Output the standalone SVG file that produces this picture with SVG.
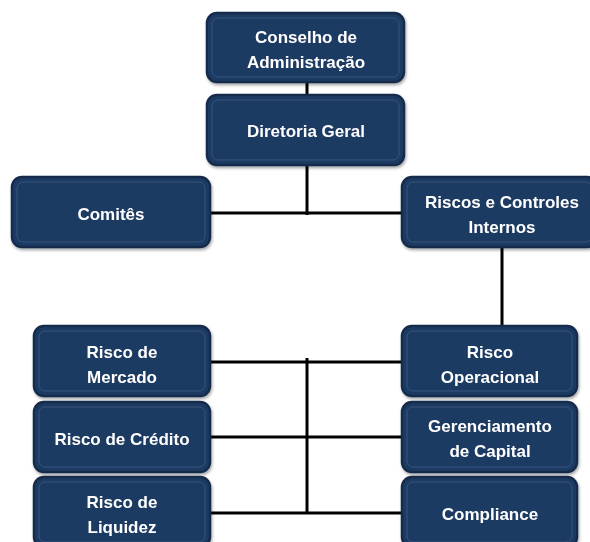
<svg xmlns="http://www.w3.org/2000/svg" width="590" height="542" viewBox="0 0 590 542">
<defs>
<style>
.box{fill:#1f3b63;stroke:#152c4b;stroke-width:2.5}
.bev{fill:none;stroke:#3a5a86;stroke-width:1;opacity:0.8}
.t{font-family:"Liberation Sans",Arial,sans-serif;font-weight:bold;font-size:17px;fill:#ffffff;text-anchor:middle}
.c{stroke:#000;stroke-width:3;fill:none}
</style>
<filter id="sh" x="-10%" y="-10%" width="120%" height="130%">
<feDropShadow dx="1" dy="2" stdDeviation="1.5" flood-color="#000" flood-opacity="0.35"/>
</filter>
</defs>
<rect width="590" height="542" fill="#ffffff"/>
<g id="connectors">
<line class="c" x1="307" y1="82" x2="307" y2="96"/>
<line class="c" x1="307" y1="165" x2="307" y2="215"/>
<line class="c" x1="210" y1="213" x2="402" y2="213"/>
<line class="c" x1="502" y1="247" x2="502" y2="327"/>
<line class="c" x1="307" y1="358" x2="307" y2="514"/>
<line class="c" x1="210" y1="362" x2="402" y2="362"/>
<line class="c" x1="210" y1="437" x2="402" y2="437"/>
<line class="c" x1="210" y1="513" x2="402" y2="513"/>
</g>
<g id="conselho" filter="url(#sh)">
<rect class="box" x="207" y="13" width="197" height="69" rx="10"/>
<rect class="bev" x="212" y="18" width="187" height="59" rx="6"/>
<text class="t" x="306" y="43">Conselho de</text>
<text class="t" x="306" y="68">Administração</text>
</g>
<g id="diretoria" filter="url(#sh)">
<rect class="box" x="207" y="95" width="197" height="70" rx="10"/>
<rect class="bev" x="212" y="100" width="187" height="60" rx="6"/>
<text class="t" x="306" y="137">Diretoria Geral</text>
</g>
<g id="comites" filter="url(#sh)">
<rect class="box" x="12" y="177" width="198" height="70" rx="10"/>
<rect class="bev" x="17" y="182" width="188" height="60" rx="6"/>
<text class="t" x="111" y="220">Comitês</text>
</g>
<g id="riscos-controles" filter="url(#sh)">
<rect class="box" x="402" y="177" width="195" height="70" rx="10"/>
<rect class="bev" x="407" y="182" width="185" height="60" rx="6"/>
<text class="t" x="502" y="208">Riscos e Controles</text>
<text class="t" x="502" y="233">Internos</text>
</g>
<g id="mercado" filter="url(#sh)">
<rect class="box" x="34" y="326" width="176" height="70" rx="10"/>
<rect class="bev" x="39" y="331" width="166" height="60" rx="6"/>
<text class="t" x="122" y="358">Risco de</text>
<text class="t" x="122" y="383">Mercado</text>
</g>
<g id="credito" filter="url(#sh)">
<rect class="box" x="34" y="402" width="176" height="70" rx="10"/>
<rect class="bev" x="39" y="407" width="166" height="60" rx="6"/>
<text class="t" x="122" y="445">Risco de Crédito</text>
</g>
<g id="liquidez" filter="url(#sh)">
<rect class="box" x="34" y="477" width="176" height="70" rx="10"/>
<rect class="bev" x="39" y="482" width="166" height="60" rx="6"/>
<text class="t" x="122" y="508">Risco de</text>
<text class="t" x="122" y="533">Liquidez</text>
</g>
<g id="operacional" filter="url(#sh)">
<rect class="box" x="402" y="326" width="175" height="70" rx="10"/>
<rect class="bev" x="407" y="331" width="165" height="60" rx="6"/>
<text class="t" x="490" y="358">Risco</text>
<text class="t" x="490" y="383">Operacional</text>
</g>
<g id="capital" filter="url(#sh)">
<rect class="box" x="402" y="402" width="175" height="70" rx="10"/>
<rect class="bev" x="407" y="407" width="165" height="60" rx="6"/>
<text class="t" x="490" y="432">Gerenciamento</text>
<text class="t" x="490" y="457">de Capital</text>
</g>
<g id="compliance" filter="url(#sh)">
<rect class="box" x="402" y="477" width="175" height="70" rx="10"/>
<rect class="bev" x="407" y="482" width="165" height="60" rx="6"/>
<text class="t" x="490" y="520">Compliance</text>
</g>
</svg>
